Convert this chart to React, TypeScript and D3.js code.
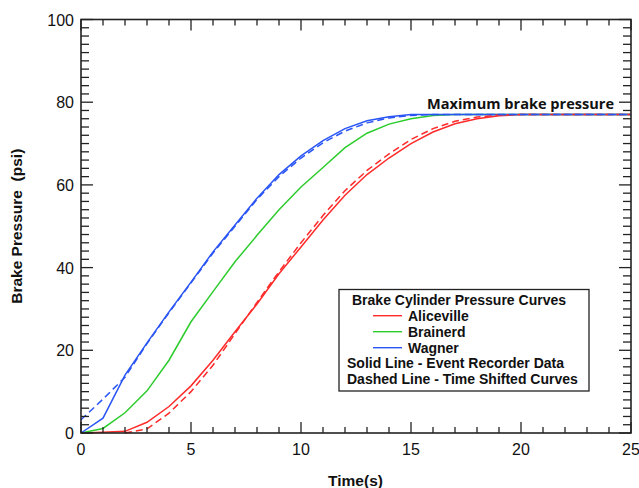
import React from 'react';
import * as d3 from 'd3';

// time axis, one reading per second
const times = d3.range(0, 26);

// event recorder data (solid)
const aliceville = [0, 0.2, 0.4, 2.6, 6.4, 11.4, 17.6, 24.5, 31.2, 38.5, 45, 51.5, 57.5, 62.5, 66.5, 70, 72.8, 74.8, 76, 76.7, 77, 77, 77, 77, 77, 77];
const brainerd = [0, 1.1, 4.9, 10.2, 17.6, 26.9, 34.2, 41.4, 47.8, 54, 59.5, 64.2, 69, 72.5, 74.7, 76, 76.8, 77, 77, 77, 77, 77, 77, 77, 77, 77];
const wagner = [0, 3.6, 14, 21.8, 29.3, 36.5, 43.8, 50.3, 56.8, 62.5, 67, 70.7, 73.6, 75.5, 76.5, 77, 77, 77, 77, 77, 77, 77, 77, 77, 77, 77];

// time shifted curves (dashed)
const aliceShift = [null, null, 0, 1.0, 4.8, 10, 16.4, 24, 31.6, 39, 46, 52.6, 58.6, 63.5, 67.5, 71, 73.6, 75.4, 76.4, 76.9, 77, 77, 77, 77, 77, 77];
const wagnerShift = [3.2, 8.2, 13.5, 21.6, 29.1, 36.3, 43.5, 50, 56.5, 62, 66.5, 70.2, 73, 75, 76.2, 76.8, 77, 77, 77, 77, 77, 77, 77, 77, 77, 77];

const xTicks = [0, 5, 10, 15, 20, 25];
const yTicks = [0, 20, 40, 60, 80, 100];
const legendNames = ['Aliceville', 'Brainerd', 'Wagner'];
const colors = ['#ff2a2a', '#2ccc2c', '#2a55f5'];

const W = 639, H = 488;
const M = { left: 81, right: 8, top: 19.5, bottom: 55 };

export default function App() {
  const x = d3.scaleLinear().domain([0, 25]).range([M.left, W - M.right]);
  const y = d3.scaleLinear().domain([0, 100]).range([H - M.bottom, M.top]);
  const x0 = x(0), x1 = x(25), y0 = y(0), y1 = y(100);

  const line = d3.line<number | null>()
    .defined(d => d != null)
    .x((d, i) => x(times[i]))
    .y(d => y(d as number));

  const solid = [aliceville, brainerd, wagner];
  const dashed: [Array<number | null>, string][] = [[aliceShift, colors[0]], [wagnerShift, colors[2]]];

  const axisColor = '#222';
  const xMinor = d3.range(0, 26);
  const yMinor = d3.range(0, 101, 2);

  return (
    <svg width={W} height={H} style={{ position: 'absolute', left: 0, top: 0, background: '#fff' }}
      fontFamily="'Liberation Sans', Arial, sans-serif">
      {/* data lines */}
      {solid.map((s, i) => (
        <path key={'s' + i} d={line(s) || ''} fill="none" stroke={colors[i]} strokeWidth={1.5} />
      ))}
      {dashed.map(([s, c], i) => (
        <path key={'d' + i} d={line(s) || ''} fill="none" stroke={c} strokeWidth={1.5} strokeDasharray="7,4" />
      ))}

      {/* ticks, inward on all sides */}
      <g stroke={axisColor} strokeWidth={1.3}>
        {xMinor.map(t => {
          const len = t % 5 === 0 ? 11 : 6;
          return (
            <g key={'xt' + t}>
              <line x1={x(t)} x2={x(t)} y1={y0} y2={y0 - len} />
              <line x1={x(t)} x2={x(t)} y1={y1} y2={y1 + len} />
            </g>
          );
        })}
        {yMinor.map(v => {
          const len = v % 20 === 0 ? 12 : 8;
          return (
            <g key={'yt' + v}>
              <line x1={x0} x2={x0 + len} y1={y(v)} y2={y(v)} />
              <line x1={x1} x2={x1 - len} y1={y(v)} y2={y(v)} />
            </g>
          );
        })}
      </g>
      <rect x={x0} y={y1} width={x1 - x0} height={y0 - y1} fill="none" stroke={axisColor} strokeWidth={1.6} />

      {/* tick labels */}
      {xTicks.map(t => (
        <text key={'xl' + t} x={x(t)} y={455} textAnchor="middle" fontSize={16} fill="#111">{t}</text>
      ))}
      {yTicks.map(v => (
        <text key={'yl' + v} x={74} y={y(v) + 6} textAnchor="end" fontSize={16} fill="#111">{v}</text>
      ))}

      {/* axis titles */}
      <text x={355.5} y={486} textAnchor="middle" fontSize={15.5} fontWeight="bold" fill="#111">Time(s)</text>
      <text transform={`translate(22,${(y0 + y1) / 2}) rotate(-90)`} textAnchor="middle" fontSize={15.5}
        fontWeight="bold" fill="#111" style={{ whiteSpace: 'pre' }}>Brake Pressure  (psi)</text>

      {/* annotation */}
      <text x={427} y={109} fontFamily="'Open Sans', sans-serif" fontSize={15} fontWeight="bold" fill="#111"
        textLength={187} lengthAdjust="spacingAndGlyphs">Maximum brake pressure</text>

      {/* legend */}
      <g fontSize={14} fontWeight="bold" fill="#111">
        <rect x={339} y={289.5} width={250} height={101.5} fill="#fff" stroke={axisColor} strokeWidth={1.3} />
        <text x={352} y={304.5}>Brake Cylinder Pressure Curves</text>
        {legendNames.map((n, i) => (
          <g key={n}>
            <line x1={373} x2={402} y1={315.7 + i * 16} y2={315.7 + i * 16} stroke={colors[i]} strokeWidth={1.4} />
            <text x={408} y={320.5 + i * 16}>{n}</text>
          </g>
        ))}
        <text x={347} y={368}>Solid Line - Event Recorder Data</text>
        <text x={347} y={383.5}>Dashed Line - Time Shifted Curves</text>
      </g>
    </svg>
  );
}
